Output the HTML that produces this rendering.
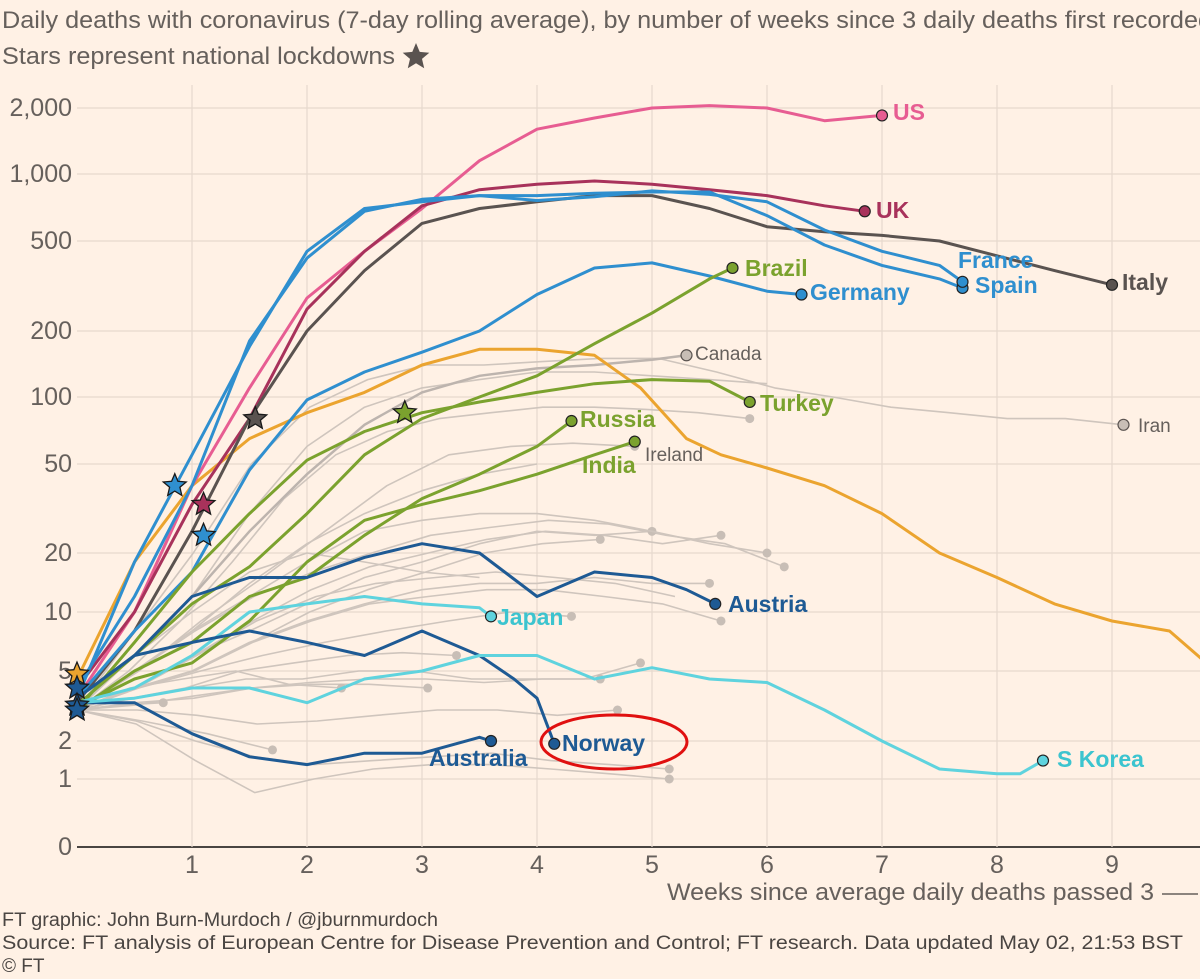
<!DOCTYPE html>
<html><head><meta charset="utf-8">
<style>
body{margin:0;background:#fff1e5;overflow:hidden;}
svg{display:block;font-family:"Liberation Sans",sans-serif;}
</style></head>
<body>
<svg id="chart" width="1200" height="979" viewBox="0 0 1200 979" xmlns="http://www.w3.org/2000/svg">
<rect width="1200" height="979" fill="#fff1e5"/>
<text x="2" y="28" font-size="24" fill="#66605c" textLength="1210" lengthAdjust="spacingAndGlyphs">Daily deaths with coronavirus (7-day rolling average), by number of weeks since 3 daily deaths first recorded</text>
<text x="2" y="64" font-size="24" fill="#66605c" textLength="393" lengthAdjust="spacingAndGlyphs">Stars represent national lockdowns</text>
<g id="grid"></g>
<g id="gray"></g>
<g id="series"></g>
<g id="marks"></g>
<ellipse cx="614" cy="742" rx="73" ry="27" fill="none" stroke="#e01010" stroke-width="3"/>
<text x="667" y="900" font-size="24" fill="#66605c" textLength="487" lengthAdjust="spacingAndGlyphs">Weeks since average daily deaths passed 3</text>
<line x1="1162" y1="894" x2="1198" y2="894" stroke="#66605c" stroke-width="1.5"/>
<text x="2" y="926" font-size="19" fill="#4a4542" textLength="436" lengthAdjust="spacingAndGlyphs">FT graphic: John Burn-Murdoch / @jburnmurdoch</text>
<text x="2" y="949" font-size="19" fill="#4a4542" textLength="1181" lengthAdjust="spacingAndGlyphs">Source: FT analysis of European Centre for Disease Prevention and Control; FT research. Data updated May 02, 21:53 BST</text>
<text x="2" y="972" font-size="19" fill="#4a4542">© FT</text>
</svg>
<script>
const yTickValues=[0,1,2,5,10,20,50,100,200,500,1000,2000];
const yTickLabels=["0","1","2","5","10","20","50","100","200","500","1,000","2,000"];
const yTickPixels=[847,779,741,671,612,553,464,397,331,241,174,108];
const xTicks=[1,2,3,4,5,6,7,8,9];

const grayEnds=[6.15,5.6,5.0,4.55,6.0,5.6,5.5,4.3,3.3,4.9,4.55,3.05,4.7,5.15,5.15,1.7,0.75,2.3,6.0,5.85,4.85,9.1,4.0,3.5,5.2];
const grayValues=[
[3,5,8,12,16,20,24,26,28,27,24,22,17],
[3,4,6,9,13,17,20,23,25,24,22,24],
[3,4,6,8,11,15,18,22,25,24,25],
[3,4,5,7,10,13,16,20,22,23],
[3,5,8,12,18,25,28,30,30,28,25,22,20],
[3,4,5,7,9,11,12,13,13,12,11,9],
[3,4,5,7,9,11,13,14,14,15,14,14],
[3,4,5,6,7,8,9,10,9.5],
[3,3.5,4,5,5.5,6,6.2,6],
[3,3.5,4,4.5,4.5,5,5,4.5,4.5,4.5,5.5],
[3,3.2,3.6,4,4.3,4.5,4.5,4.3,4.5,4.5],
[3,3.3,3.5,4,4.2,4.2,4],
[3,3,2.8,2.5,2.6,2.8,3,3,2.8,3],
[3,2.6,2,1.5,1.3,1.4,1.5,1.6,1.4,1.3,1.2],
[3,2.5,1.4,0.8,1,1.2,1.3,1.3,1.2,1.1,1],
[3,2.6,2.2,1.7],
[3,3.2,3.3],
[3,4,4.5,5,4.2,4],
[3,6,12,30,60,90,110,120,130,130,125,120,115],
[3,5,9,18,35,55,70,80,85,90,90,88,85,80],
[3,5,9,15,25,40,55,60,62,60],
[3,8,20,50,90,120,140,140,145,150,150,130,110,100,90,85,80,80,75],
[3,5,8,14,22,30,38,45,50],
[3,6,10,16,20,18,16,15],
[3,4,6,9,12,14,15,16,15,14,12]
];
const grayDots=[true,true,true,true,true,true,true,true,true,true,true,true,true,true,true,true,true,true,false,true,true,true,false,false,false];

const canadaWeeks=[0,0.5,1,1.5,2,2.5,3,3.5,4,4.5,5,5.3];
const canadaDeaths=[3.2,6,12,25,45,75,105,125,135,140,148,155];

const countryNames=["Belgium","US","UK","Italy","Spain","France","Germany","Brazil","Turkey","Russia","India","Austria","Japan","Norway","Australia","S Korea"];
const countryColors=["#eba42f","#e75d92","#a8325b","#5a5350","#2f8fcf","#2f8fcf","#2f8fcf","#7ba22e","#7ba22e","#7ba22e","#7ba22e","#1e5a94","#5fd3de","#1e5a94","#1e5a94","#5fd3de"];
const countryWeeks=[
[0,0.5,1,1.5,2,2.5,3,3.5,4,4.5,4.9,5.3,5.6,6,6.5,7,7.5,8,8.5,9,9.5,9.9],
[0,0.5,1,1.5,2,2.5,3,3.5,4,4.5,5,5.5,6,6.5,7],
[0,0.5,1,1.5,2,2.5,3,3.5,4,4.5,5,5.5,6,6.5,6.85],
[0,0.5,1,1.5,2,2.5,3,3.5,4,4.5,5,5.5,6,6.5,7,7.5,8,8.5,9],
[0,0.5,1,1.5,2,2.5,3,3.5,4,4.5,5,5.5,6,6.5,7,7.5,7.7],
[0,0.5,1,1.5,2,2.5,3,3.5,4,4.5,5,5.5,6,6.5,7,7.5,7.7],
[0,0.5,1,1.5,2,2.5,3,3.5,4,4.5,5,5.5,6,6.3],
[0,0.5,1,1.5,2,2.5,3,3.5,4,4.5,5,5.5,5.7],
[0,0.5,1,1.5,2,2.5,3,3.5,4,4.5,5,5.5,5.85],
[0,0.5,1,1.5,2,2.5,3,3.5,4,4.3],
[0,0.5,1,1.5,2,2.5,3,3.5,4,4.5,4.85],
[0,0.5,1,1.5,2,2.5,3,3.5,4,4.5,5,5.3,5.55],
[0,0.5,1,1.5,2,2.5,3,3.5,3.6],
[0,0.5,1,1.5,2,2.5,3,3.5,3.8,4,4.15],
[0,0.5,1,1.5,2,2.5,3,3.5,3.6],
[0,0.5,1,1.5,2,2.5,3,3.5,4,4.5,5,5.5,6,6.5,7,7.5,8,8.2,8.4]
];
const countryDeaths=[
[4.5,18,40,65,85,105,140,165,165,155,110,65,55,48,40,30,20,15,11,9,8,5],
[3.5,10,40,110,280,450,700,1150,1600,1800,2000,2050,2000,1750,1850],
[4,10,33,80,250,450,720,850,900,930,900,850,800,720,680],
[3.3,8,25,80,200,370,600,700,750,800,800,700,580,550,530,500,430,370,320],
[3.5,18,55,170,450,700,750,800,800,820,830,830,650,480,390,340,310],
[4,12,40,180,420,680,770,800,760,790,840,810,750,560,450,390,330],
[3.5,8,16,47,97,130,160,200,290,380,400,350,300,290],
[3.2,6,11,17,30,55,80,100,125,175,240,340,380],
[3,7,16,30,52,70,85,95,105,115,120,118,95],
[3,5,7,12,15,24,35,45,60,78],
[3.1,4.5,5.5,9,18,28,33,38,45,55,63],
[3.5,6,12,15,15,19,22,20,12,16,15,13,11],
[3.3,4,6,10,11,12,11,10.5,9.5],
[3.5,6,7,8,7,6,8,6,4.5,3.5,1.9],
[3.3,3.3,2.2,1.5,1.3,1.6,1.6,2.1,2.0],
[3.3,3.5,4,4,3.3,4.5,5,6,6,4.5,5.2,4.5,4.3,3,2,1.2,1.1,1.1,1.4]
];
const countryLabelOn=[false,true,true,true,true,true,true,true,true,true,true,true,true,true,true,true];

const lockdownWeeks=[0,0,0,0,0.85,1.1,1.1,1.55,2.85];
const lockdownDeaths=[4.8,4,3.2,3,40,33,24,80,85];
const lockdownColors=["#eba42f","#1e5a94","#1e5a94","#1e5a94","#2f8fcf","#a8325b","#2f8fcf","#5a5350","#7ba22e"];

const NS="http://www.w3.org/2000/svg";
function xs(w){return 77+115*w;}
function ys(v){
  if(v<=0)return yTickPixels[0];
  if(v<=1)return yTickPixels[0]+(yTickPixels[1]-yTickPixels[0])*v;
  for(let i=1;i<yTickValues.length-1;i++){
    const a=yTickValues[i],b=yTickValues[i+1];
    if(v<=b||i===yTickValues.length-2){
      const t=(Math.log(v)-Math.log(a))/(Math.log(b)-Math.log(a));
      return yTickPixels[i]+(yTickPixels[i+1]-yTickPixels[i])*t;
    }
  }
}
function mk(tag,attrs,parent){const e=document.createElementNS(NS,tag);for(const k in attrs)e.setAttribute(k,attrs[k]);parent.appendChild(e);return e;}
const grid=document.getElementById('grid');
yTickValues.forEach((v,i)=>{
  const y=ys(v);
  const l=mk('line',{x1:77,x2:1200,y1:y,y2:y,stroke:i===0?'#4a4542':'#e6d9ce','stroke-width':i===0?2:1.2},grid);
  
  
  const t=mk('text',{x:72,y:y+8,'font-size':25,fill:'#66605c','text-anchor':'end'},grid);
  t.textContent=yTickLabels[i];
  
  
});
xTicks.forEach(w=>{
  const x=xs(w);
  const l=mk('line',{x1:x,x2:x,y1:85,y2:847,stroke:'#e6d9ce','stroke-width':1.2},grid);
  
  
  const t=mk('text',{x:x,y:873,'font-size':25,fill:'#66605c','text-anchor':'middle'},grid);
  t.textContent=String(w);
  
  
});
function pathD(ws,vs){return ws.map((w,i)=>(i?'L':'M')+xs(w).toFixed(1)+','+ys(vs[i]).toFixed(1)).join('');}
const gray=document.getElementById('gray');
grayValues.forEach((vals,gi)=>{
  const n=vals.length;const ws=vals.map((_,i)=>grayEnds[gi]*i/(n-1));
  const p=mk('path',{d:pathD(ws,vals),fill:'none',stroke:'#cfc5bd','stroke-width':1.6,'stroke-linejoin':'round'},gray);
  
  
  if(grayDots[gi]){
    const c=mk('circle',{cx:xs(grayEnds[gi]),cy:ys(vals[n-1]),r:4.5,fill:'#c8beb6'},gray);
    
    
  }
});
const cp=mk('path',{d:pathD(canadaWeeks,canadaDeaths),fill:'none',stroke:'#bdb4ae','stroke-width':2.5},gray);


const cc=mk('circle',{cx:xs(canadaWeeks[canadaWeeks.length-1]),cy:ys(canadaDeaths[canadaDeaths.length-1]),r:5.5,fill:'#c8beb6',stroke:'#5a5350','stroke-width':1.2},gray);



const series=document.getElementById('series');
countryNames.forEach((name,ci)=>{
  const ws=countryWeeks[ci],vs=countryDeaths[ci];
  const p=mk('path',{d:pathD(ws,vs),fill:'none',stroke:countryColors[ci],'stroke-width':3,'stroke-linejoin':'round'},series);
  
  
  if(countryLabelOn[ci]){
    const c=mk('circle',{cx:xs(ws[ws.length-1]),cy:ys(vs[vs.length-1]),r:5.5,fill:countryColors[ci],stroke:'#222','stroke-width':1.2},series);
    
    
  }
});

const marks=document.getElementById('marks');
function starPts(cx,cy,R){const r=R*0.45;let s=[];for(let i=0;i<10;i++){const a=-Math.PI/2+i*Math.PI/5;const rr=i%2?r:R;s.push((cx+rr*Math.cos(a)).toFixed(1)+','+(cy+rr*Math.sin(a)).toFixed(1));}return s.join(' ');}
lockdownWeeks.forEach((w,i)=>{
  const s=mk('polygon',{points:starPts(xs(w),ys(lockdownDeaths[i]),12),fill:lockdownColors[i],stroke:'#1a1a1a','stroke-width':1.3},marks);
  
  
});
const ts=mk('polygon',{points:starPts(416,57,14),fill:'#5a5350'},marks);



const labelText=["US","UK","France","Spain","Italy","Brazil","Germany","Canada","Turkey","Iran","Russia","Ireland","India","Japan","Austria","Australia","Norway","S Korea"];
const labelX=[893,876,958,975,1122,745,810,695,760,1138,580,645,582,497,728,429,562,1057];
const labelY=[120,218,268,293,290,276,300,360,411,432,427,461,473,625,612,766,751,767];
const labelColor=["#e75d92","#a8325b","#2f8fcf","#2f8fcf","#5a5350","#7ba22e","#2f8fcf","#66605c","#7ba22e","#66605c","#7ba22e","#66605c","#7ba22e","#3cc4cf","#1e5a94","#1e5a94","#1e5a94","#3cc4cf"];
const labelBold=[1,1,1,1,1,1,1,0,1,0,1,0,1,1,1,1,1,1];
labelText.forEach((t,i)=>{
  const e=mk('text',{x:labelX[i],y:labelY[i],'font-size':labelBold[i]?23:19,'font-weight':labelBold[i]?'bold':'normal',fill:labelColor[i]},marks);
  e.textContent=t;
  
  
});
const ic=mk('circle',{cx:xs(9.1),cy:ys(75),r:5.5,fill:'#c8beb6',stroke:'#5a5350','stroke-width':1.2},marks);


</script>
</body></html>
